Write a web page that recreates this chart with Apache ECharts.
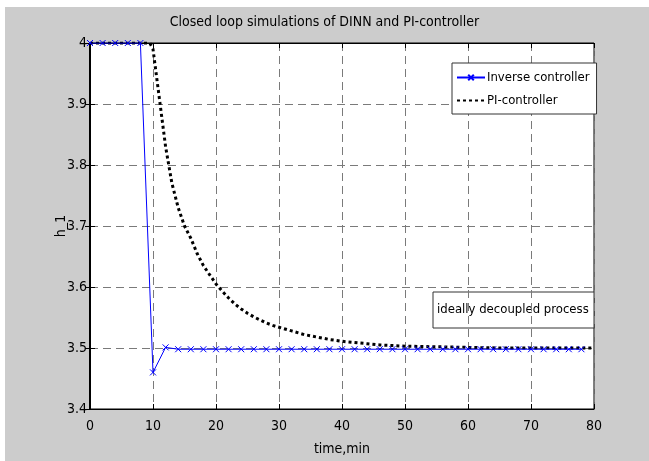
<!DOCTYPE html>
<html>
<head>
<meta charset="utf-8">
<script src="https://cdn.jsdelivr.net/npm/echarts@6/dist/echarts.min.js"></script>
<style>html,body{margin:0;padding:0;background:#fff}#c{width:649px;height:461px}</style>
</head>
<body>
<div id="c"></div>
<script>
// ---- data ----
const invTime = [0,2,4,6,8,10,12,14,16,18,20,22,24,26,28,30,32,34,36,38,40,42,44,46,48,50,52,54,56,58,60,62,64,66,68,70,72,74,76,78];
const invValues = [4,4,4,4,4,3.46,3.501,3.498,3.498,3.498,3.498,3.498,3.498,3.498,3.498,3.498,3.498,3.498,3.498,3.498,3.498,3.498,3.498,3.498,3.498,3.498,3.498,3.498,3.498,3.498,3.498,3.498,3.498,3.498,3.498,3.498,3.498,3.498,3.498,3.498];
const piTime = [0,2,4,6,8,9.5,10,10.5,11,11.5,12,13,14,15,16,17,18,19,20,21,22,23,24,25,26,27,28,29,30,32,34,36,38,40,42,44,46,48,50,55,60,65,70,75,80];
const piValues = [4,4,4,4,4,4,3.99,3.95,3.91,3.87,3.83,3.77,3.73,3.70,3.68,3.655,3.635,3.62,3.605,3.593,3.582,3.572,3.564,3.557,3.551,3.546,3.541,3.537,3.534,3.528,3.522,3.518,3.514,3.511,3.509,3.507,3.505,3.504,3.503,3.502,3.501,3.5,3.5,3.5,3.5];
const xTicks = [0,10,20,30,40,50,60,70,80];
const yTicks = [3.4,3.5,3.6,3.7,3.8,3.9,4];

const FONT = "'DejaVu Sans Condensed','Liberation Sans',sans-serif";
const chart = echarts.init(document.getElementById('c'));
const pair = (xs, ys) => xs.map((x, i) => [x, ys[i]]);
const grid = {color:'#7a7a7a', width:1, type:[8,5]};
chart.setOption({
  backgroundColor:'#fff',
  animation:false,
  graphic:[
    {type:'rect', z:-10, shape:{x:5,y:7,width:644,height:454}, style:{fill:'#cccccc'}},
    {type:'group', z:100, children:[
      {type:'rect', shape:{x:433,y:292,width:161,height:36}, style:{fill:'#fff', stroke:'#333', lineWidth:1}},
      {type:'text', style:{x:437,y:310,text:'ideally decoupled process', fill:'#000', font:"13px "+FONT, verticalAlign:'middle'}}
    ]}
  ],
  title:{text:'Closed loop simulations of DINN and PI-controller', left:'center', top:10,
    textStyle:{fontFamily:FONT, fontSize:14, fontWeight:'normal', color:'#000'}},
  legend:{
    orient:'vertical', left:452, top:63, padding:[8,7,7,4], itemGap:10,
    backgroundColor:'#fff', borderColor:'#333', borderWidth:1, borderRadius:0,
    itemWidth:28, itemHeight:7,
    textStyle:{fontFamily:FONT, fontSize:13, color:'#000', padding:[0,0,0,-3]},
    data:[{name:'Inverse controller'},{name:'PI-controller', itemStyle:{opacity:0}}]
  },
  grid:{left:90, top:43, width:504, height:370, show:true, backgroundColor:'#fff', borderColor:'#000', borderWidth:1, containLabel:false},
  xAxis:[{
    type:'value', min:0, max:80, interval:10,
    name:'time,min', nameLocation:'middle', nameGap:33,
    nameTextStyle:{fontFamily:FONT, fontSize:14, color:'#000'},
    axisLine:{show:true, lineStyle:{color:'#000', width:1}},
    axisTick:{show:true, inside:true, length:5, lineStyle:{color:'#000'}},
    axisLabel:{fontFamily:FONT, fontSize:14, color:'#000', margin:10, formatter:v=>xTicks.includes(v)?String(v):''},
    splitLine:{show:true, lineStyle:grid}
  },{
    type:'value', min:0, max:80, interval:10, position:'top',
    axisLine:{show:true, lineStyle:{color:'#000', width:1}},
    axisTick:{show:true, inside:true, length:5, lineStyle:{color:'#000'}},
    axisLabel:{show:false}, splitLine:{show:false}
  }],
  yAxis:[{
    type:'value', min:3.4, max:4, interval:0.1,
    name:'h_1', nameLocation:'middle', nameGap:22, nameMoveOverlap:false,
    nameTextStyle:{fontFamily:FONT, fontSize:14, color:'#000'},
    axisLine:{show:true, lineStyle:{color:'#000', width:1}},
    axisTick:{show:true, inside:true, length:5, lineStyle:{color:'#000'}},
    axisLabel:{fontFamily:FONT, fontSize:14, color:'#000', margin:3,
      formatter:v=>{const r=Math.round(v*10)/10; return r===4?'4':r.toFixed(1);}},
    splitLine:{show:true, lineStyle:grid}
  },{
    type:'value', min:3.4, max:4, interval:0.1, position:'right',
    axisLine:{show:true, lineStyle:{color:'#000', width:2}},
    axisTick:{show:true, inside:true, length:5, lineStyle:{color:'#000'}},
    axisLabel:{show:false}, splitLine:{show:false}
  }],
  series:[
    {name:'PI-controller', type:'line', data:pair(piTime, piValues), showSymbol:false, symbol:'none',
      lineStyle:{color:'#000', width:3, type:[3,3], cap:'butt'}, itemStyle:{color:'#000'}, z:2},
    {name:'Inverse controller', type:'line', data:pair(invTime, invValues),
      symbol:'path://M0,0L10,10M10,0L0,10', symbolSize:6, showSymbol:true,
      lineStyle:{color:'#0000ff', width:1}, itemStyle:{color:'#0000ff', borderColor:'#0000ff', borderWidth:1}, z:3}
  ]
});
</script>
</body>
</html>
